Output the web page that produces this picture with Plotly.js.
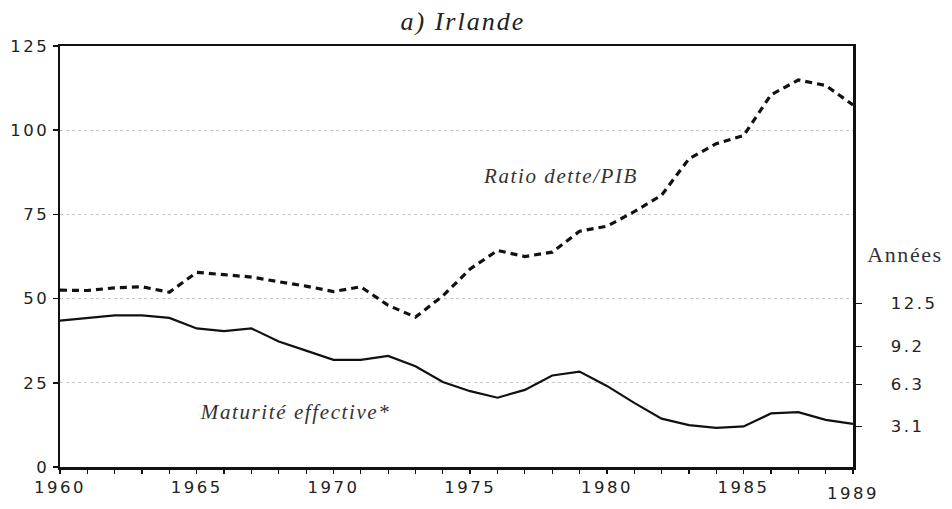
<!DOCTYPE html>
<html>
<head>
<meta charset="utf-8">
<script src="https://cdn.plot.ly/plotly-3.0.1.min.js"></script>
<style>
html,body{margin:0;padding:0;background:#fff;}
#chart{width:952px;height:509px;}
#chart .xtick text, #chart .ytick text, #chart .y2tick text, #chart .tk text{letter-spacing:2.5px;}
#chart .ser text{letter-spacing:1.6px;}
#chart .gtitle{letter-spacing:2px;}
</style>
</head>
<body>
<div id="chart"></div>
<script>
const years = [1960,1961,1962,1963,1964,1965,1966,1967,1968,1969,1970,1971,1972,1973,1974,1975,1976,1977,1978,1979,1980,1981,1982,1983,1984,1985,1986,1987,1988,1989];
// Ratio dette/PIB (%), left axis
const ratioDettePIB = [52.5,52.4,53.2,53.5,51.9,57.8,57.1,56.4,55.0,53.7,52.1,53.5,48.0,44.5,50.8,58.8,64.3,62.5,63.8,70.0,71.5,75.8,80.7,91.5,96.0,98.4,110.5,114.9,113.3,107.5];
// Maturité effective (années), right axis
const maturite = [11.2,11.4,11.6,11.6,11.4,10.6,10.4,10.6,9.6,8.9,8.2,8.2,8.5,7.7,6.5,5.8,5.3,5.9,7.0,7.3,6.2,4.9,3.7,3.2,3.0,3.1,4.1,4.2,3.6,3.3];
const leftTicks = [0,25,50,75,100,125];
const rightTicks = [3.1,6.3,9.2,12.5];
const xTicks = [1960,1965,1970,1975,1980,1985];

const tickFont = {family:'DejaVu Sans', size:16.5, color:'#222'};
const serif = 'Liberation Serif';

const data = [
  {x: years, y: ratioDettePIB, type:'scatter', mode:'lines', yaxis:'y',
   line:{color:'#111', width:3.2, dash:'7px,5px'}, hoverinfo:'skip'},
  {x: years, y: maturite, type:'scatter', mode:'lines', yaxis:'y2',
   line:{color:'#111', width:2.2}, hoverinfo:'skip'}
];

const layout = {
  width:952, height:509,
  margin:{l:60, r:99, t:46, b:42},
  paper_bgcolor:'#fff', plot_bgcolor:'#fff',
  showlegend:false,
  title:{text:'<i>a) Irlande</i>', font:{family:serif, size:26, color:'#222'}, x:0.508, xanchor:'center', y:0.958, yanchor:'middle', xref:'paper'},
  xaxis:{range:[1960,1989], tickvals:xTicks, ticktext:xTicks.map(String),
    showgrid:false, zeroline:false, showline:true, linecolor:'#111', linewidth:2.5, mirror:true,
    ticks:'outside', ticklen:4, tickwidth:1.5, tickcolor:'#111',
    minor:{dtick:1, ticks:'outside', ticklen:4, tickwidth:1.2, tickcolor:'#111'},
    tickfont:tickFont},
  yaxis:{range:[0,125], tickvals:leftTicks, ticktext:leftTicks.map(String),
    showgrid:true, gridcolor:'#c8c8c8', griddash:'dot', gridwidth:1,
    zeroline:false, showline:true, linecolor:'#111', linewidth:2.5,
    ticks:'outside', ticklen:5, tickwidth:1.5, tickcolor:'#111', tickfont:tickFont},
  yaxis2:{range:[0,32.2], overlaying:'y', side:'right', tickvals:rightTicks, ticktext:rightTicks.map(String),
    showgrid:false, zeroline:false, showline:true, linecolor:'#111', linewidth:2.5,
    ticks:'outside', ticklen:6, tickwidth:1.5, tickcolor:'#111', tickfont:tickFont,
    ticklabelstandoff:26},
  annotations:[
    {text:'1989', xref:'x', yref:'paper', x:1989, y:0, yshift:-26, showarrow:false, font:tickFont, xanchor:'center', yanchor:'middle', name:'tk'},
    {text:'<i>Ratio dette/PIB</i>', xref:'x', yref:'y', x:1978.3, y:86.3, showarrow:false, font:{family:serif, size:21, color:'#333'}, name:'ser'},
    {text:'<i>Maturité effective*</i>', xref:'x', yref:'y', x:1968.6, y:16.4, showarrow:false, font:{family:serif, size:21, color:'#333'}, name:'ser'},
    {text:'Années', xref:'paper', yref:'paper', x:1.022, xanchor:'left', y:0.505, yanchor:'middle', showarrow:false, font:{family:serif, size:22, color:'#333'}, name:'ser'}
  ]
};

Plotly.newPlot('chart', data, layout, {staticPlot:true, displayModeBar:false}).then(function(){
  // mark annotation groups with classes for letter-spacing styling
  const anns = document.querySelectorAll('#chart .annotation');
  anns.forEach(function(g, i){
    const nm = layout.annotations[i] && layout.annotations[i].name;
    if (nm) g.classList.add(nm);
  });
});
</script>
</body>
</html>
